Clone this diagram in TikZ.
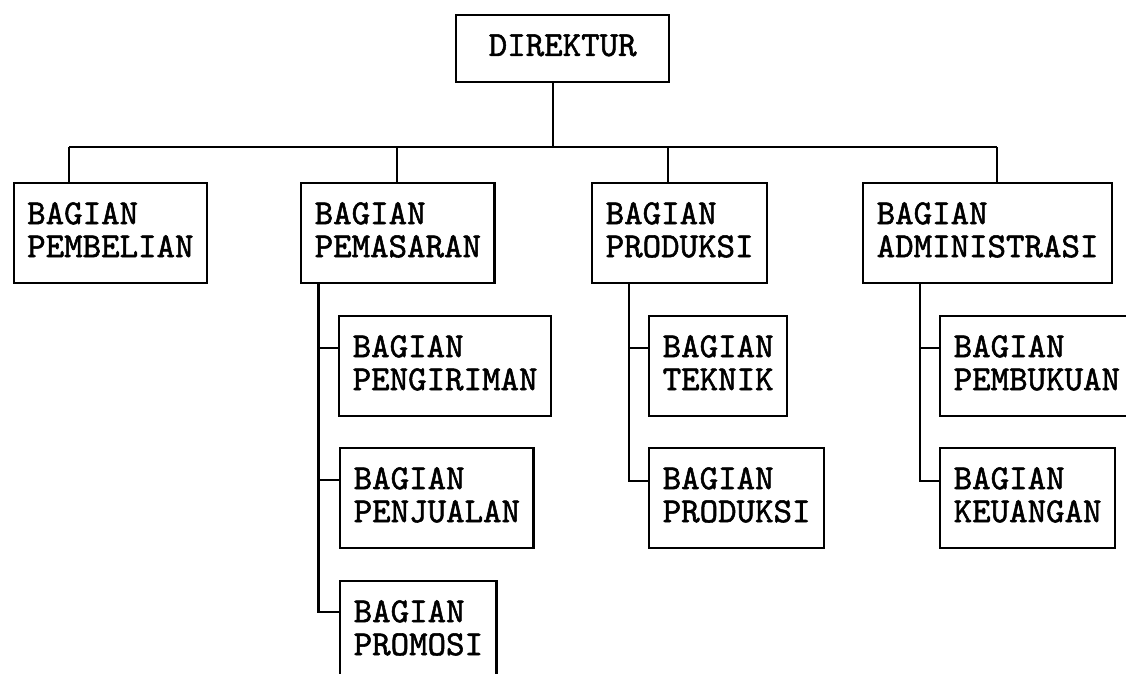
\documentclass[tikz,border=0pt]{standalone}
\usepackage{fontspec}
\newfontfamily\ketik{lmmono10-regular.otf}[BoldFont=lmmono10-regular.otf, BoldFeatures={FakeBold=1.5}]
\tikzset{
  bagian/.style={draw, line width=1.2pt, anchor=north west, align=left,
    minimum height=50pt, inner xsep=6.75pt,
    font=\ketik\bfseries\fontsize{17.6pt}{16.5pt}\selectfont,
    execute at end node={\rule[-3.5pt]{0pt}{0pt}}},
  garis/.style={line width=1.2pt}
}
\begin{document}
\begin{tikzpicture}[x=0.5pt,y=0.5pt]
\useasboundingbox (0,0) rectangle (1126,-674);
\clip (0,0) rectangle (1126,-674);

\node[bagian, align=center, minimum width=106.5pt, minimum height=33.5pt](dir) at (455,-14) {DIREKTUR};

\node[bagian](beli) at (12.5,-182) {BAGIAN\\PEMBELIAN};
\node[bagian](pasar) at (300,-182) {BAGIAN\\PEMASARAN};
\node[bagian](prod) at (591,-182) {BAGIAN\\PRODUKSI};
\node[bagian](admin) at (862,-182) {BAGIAN\\ADMINISTRASI};

\node[bagian](kirim) at (338,-315) {BAGIAN\\PENGIRIMAN};
\node[bagian](jual) at (339,-447) {BAGIAN\\PENJUALAN};
\node[bagian](promo) at (339,-580) {BAGIAN\\PROMOSI};

\node[bagian](teknik) at (648,-315) {BAGIAN\\TEKNIK};
\node[bagian](prod2) at (648,-447) {BAGIAN\\PRODUKSI};

\node[bagian](buku) at (939,-315) {BAGIAN\\PEMBUKUAN};
\node[bagian](uang) at (939,-447) {BAGIAN\\KEUANGAN};

\coordinate (top) at (553,-147);
\coordinate (b1) at (69,-147);
\coordinate (b2) at (397,-147);
\coordinate (b3) at (668,-147);
\coordinate (b4) at (997,-147);
\coordinate (v1) at (318.5,-282);
\coordinate (v2) at (629,-282);
\coordinate (v3) at (920,-282);

\draw[garis] (dir.south -| top) to (top);
\draw[garis] (b1) to (b4);
\draw[garis] (b1) to (b1 |- beli.north);
\draw[garis] (b2) to (b2 |- pasar.north);
\draw[garis] (b3) to (b3 |- prod.north);
\draw[garis] (b4) to (b4 |- admin.north);

\draw[garis] (pasar.south -| v1) |- ([yshift=-16.5pt]kirim.north west);
\draw[garis] (pasar.south -| v1) |- ([yshift=-16.5pt]jual.north west);
\draw[garis] (pasar.south -| v1) |- ([yshift=-16pt]promo.north west);

\draw[garis] (prod.south -| v2) |- ([yshift=-16.5pt]teknik.north west);
\draw[garis] (prod.south -| v2) |- ([yshift=-17pt]prod2.north west);

\draw[garis] (admin.south -| v3) |- ([yshift=-16.5pt]buku.north west);
\draw[garis] (admin.south -| v3) |- ([yshift=-17pt]uang.north west);

\end{tikzpicture}
\end{document}
